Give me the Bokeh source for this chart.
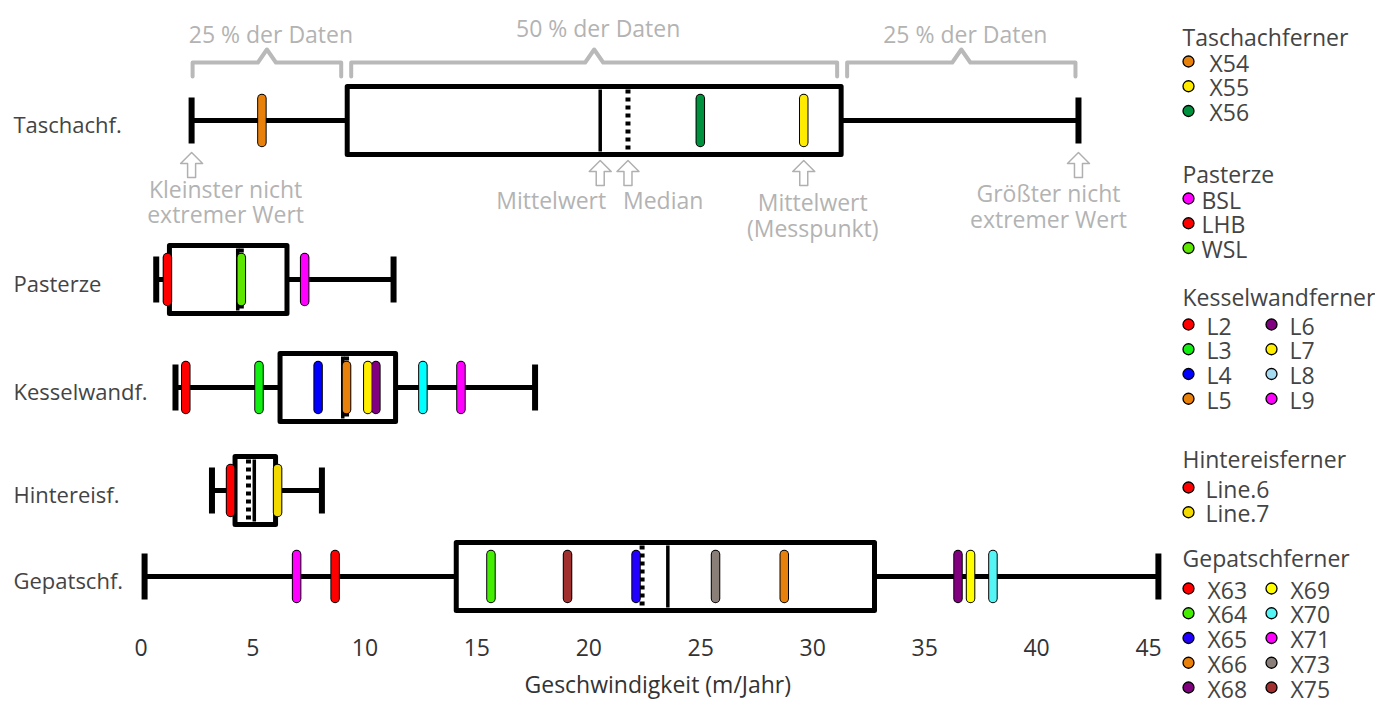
import math
from bokeh.plotting import figure
from bokeh.layouts import row
from bokeh.models import Range1d, FixedTicker, Title
from bokeh.embed import file_html
from bokeh.resources import INLINE
from bokeh.core.properties import value

FONT = "Open Sans"

# ---------------- data ----------------
row_names = ["Taschachf.", "Pasterze", "Kesselwandf.", "Hintereisf.", "Gepatschf."]
whisker_low = [2.26, 0.68, 1.54, 3.17, 0.16]
box_q1 = [9.21, 1.27, 6.21, 4.20, 14.08]
mean_vals = [20.51, 4.32, 9.01, 5.06, 23.53]
median_vals = [21.75, 4.48, 9.18, 4.80, 22.38]
box_q3 = [31.27, 6.52, 11.37, 6.01, 32.76]
whisker_high = [41.87, 11.28, 17.60, 8.08, 45.44]

x_ticks = [0, 5, 10, 15, 20, 25, 30, 35, 40, 45]
x_label = "Geschwindigkeit (m/Jahr)"

group_titles = ["Taschachferner", "Pasterze", "Kesselwandferner", "Hintereisferner", "Gepatschferner"]

taschach_names = ["X54", "X55", "X56"]
taschach_values = [5.40, 29.60, 24.98]
taschach_colors = ["#E8800C", "#FFEB00", "#00913F"]

pasterze_names = ["BSL", "LHB", "WSL"]
pasterze_values = [7.31, 1.18, 4.48]
pasterze_colors = ["#FF00FF", "#FF0000", "#5CE600"]

kessel_names = ["L2", "L3", "L4", "L5", "L6", "L7", "L8", "L9"]
kessel_values = [2.00, 5.27, 7.91, 9.18, 10.49, 10.13, 12.59, 14.29]
kessel_colors = ["#FF0000", "#11EE11", "#0000FF", "#E8800C", "#800080", "#FFEE00", "#00FFFF", "#FF00FF"]
kessel_legend_colors = ["#FF0000", "#11EE11", "#0000FF", "#E8800C", "#800080", "#FFEE00", "#A6DCF2", "#FF00FF"]

hintereis_names = ["Line.6", "Line.7"]
hintereis_values = [4.00, 6.10]
hintereis_colors = ["#FF0000", "#F2DA00"]

gepatsch_names = ["X63", "X64", "X65", "X66", "X68", "X69", "X70", "X71", "X73", "X75"]
gepatsch_values = [8.67, 15.63, 22.11, 28.73, 36.49, 37.05, 38.05, 6.95, 25.66, 19.05]
gepatsch_colors = ["#FF0000", "#44EE00", "#2200FF", "#E8800C", "#800080", "#FFFF00", "#55F5F5", "#FF00FF", "#8A7F78", "#A03030"]

groups = [
    (taschach_names, taschach_values, taschach_colors, taschach_colors),
    (pasterze_names, pasterze_values, pasterze_colors, pasterze_colors),
    (kessel_names, kessel_values, kessel_colors, kessel_legend_colors),
    (hintereis_names, hintereis_values, hintereis_colors, hintereis_colors),
    (gepatsch_names, gepatsch_values, gepatsch_colors, gepatsch_colors),
]

annot_bracket_text = ["25 % der Daten", "50 % der Daten", "25 % der Daten"]

# ---------------- layout ----------------
MAIN_W, LEG_W, H = 1170, 205, 708
FRAME_BOTTOM = 628
X0_PAGE = 140.5   # page px of x = 0
PX = 22.39        # px per m/Jahr
ROW_Y = [120, 279, 387, 490, 576]   # page px
BOX_HALF = 34
CAP_HALF = 23
BAR_HALF = 22

def px2x(px):
    return (px - X0_PAGE) / PX

def dpx(px):
    return px / PX

GRAY = "#b9b9b9"
TXT_GRAY = "#b3b3b3"
ANN_SIZE = "23px"

p = figure(width=MAIN_W, height=H,
           x_range=Range1d(px2x(0), px2x(MAIN_W)),
           y_range=Range1d(FRAME_BOTTOM, 0),
           output_backend="svg", toolbar_location=None,
           min_border_left=0, min_border_right=0, min_border_top=0,
           min_border_bottom=H - FRAME_BOTTOM,
           y_axis_location=None, outline_line_color=None, background_fill_color="white")
p.frame_align = False
p.xgrid.visible = False
p.ygrid.visible = False

ax = p.xaxis[0]
ax.ticker = FixedTicker(ticks=x_ticks)
ax.axis_line_color = None
ax.major_tick_line_color = None
ax.minor_tick_line_color = None
ax.major_tick_out = 0
ax.major_label_standoff = 10
ax.major_label_text_font = FONT
ax.major_label_text_font_size = "23px"
ax.major_label_text_color = "#333333"

p.add_layout(Title(text=x_label, align="left", offset=524, text_font=FONT,
                   text_font_size="23px", text_font_style="normal",
                   text_color="#333333", standoff=14), "below")

# row labels
p.text(x=[px2x(13)] * len(row_names), y=[y + 3 for y in ROW_Y], text=row_names,
       text_font=value(FONT), text_font_size="22px", text_color="#444444",
       text_align="left", text_baseline="middle")

# whiskers
p.segment(x0=whisker_low, x1=whisker_high, y0=ROW_Y, y1=ROW_Y, line_color="black", line_width=5)
p.segment(x0=whisker_low + whisker_high, x1=whisker_low + whisker_high,
          y0=[y - CAP_HALF for y in ROW_Y] * 2, y1=[y + CAP_HALF for y in ROW_Y] * 2,
          line_color="black", line_width=6)
# boxes
p.quad(left=box_q1, right=box_q3, top=[y - BOX_HALF for y in ROW_Y], bottom=[y + BOX_HALF for y in ROW_Y],
       fill_color="white", line_color="black", line_width=5, line_join="round")
# median (dotted) and mean (solid)
p.segment(x0=median_vals, x1=median_vals, y0=[y - 31 for y in ROW_Y], y1=[y + 31 for y in ROW_Y],
          line_color="black", line_width=5, line_dash="4 4")
p.segment(x0=mean_vals, x1=mean_vals, y0=[y - 31 for y in ROW_Y], y1=[y + 31 for y in ROW_Y],
          line_color="black", line_width=3.5)

# measurement points
for gi, (names, vals, cols, lcols) in enumerate(groups):
    yc = ROW_Y[gi]
    y0 = [yc - BAR_HALF] * len(vals)
    y1 = [yc + BAR_HALF] * len(vals)
    p.segment(x0=vals, x1=vals, y0=y0, y1=y1, line_color="black", line_width=9.5, line_cap="round")
    p.segment(x0=vals, x1=vals, y0=y0, y1=y1, line_color=cols, line_width=7.5, line_cap="round")

# ---------------- annotations (Taschach row) ----------------
yc = ROW_Y[0]
bounds = [(whisker_low[0], box_q1[0]), (box_q1[0], box_q3[0]), (box_q3[0], whisker_high[0])]
pads = [(1, 6), (4, 4), (6, 3)]
bx, by, tx, ty = [], [], [], []
text_y = [33, 27, 33]
for (a, b), (pa, pb), t_y in zip(bounds, pads, text_y):
    x0 = a + dpx(pa)
    x1 = b - dpx(pb)
    cx = (x0 + x1) / 2
    bx.append([x0, x0, cx - dpx(9), cx, cx + dpx(9), x1, x1])
    by.append([76, 62, 62, 49, 62, 62, 76])
    tx.append(cx + dpx(4))
    ty.append(t_y)
p.multi_line(bx, by, line_color=GRAY, line_width=4, line_join="round", line_cap="round")
p.text(x=tx, y=ty, text=annot_bracket_text, text_font=value(FONT), text_font_size=ANN_SIZE,
       text_color=TXT_GRAY, text_align="center", text_baseline="middle")

arrow_x = [whisker_low[0], mean_vals[0], median_vals[0], taschach_values[1], whisker_high[0]]
arrow_top = [yc + CAP_HALF + 9, yc + BOX_HALF + 6, yc + BOX_HALF + 6, yc + BOX_HALF + 6, yc + CAP_HALF + 9]
shape = [(0, 0), (11, 11), (4, 11), (4, 25), (-4, 25), (-4, 11), (-11, 11)]
axs, ays = [], []
for ax_, at in zip(arrow_x, arrow_top):
    axs.append([ax_ + dpx(sx) for sx, sy in shape])
    ays.append([at + sy for sx, sy in shape])
p.patches(axs, ays, fill_color="white", line_color="#b0b0b0", line_width=1.5, line_join="round")

ann_text = ["Kleinster nicht", "extremer Wert", "Mittelwert", "Median", "Mittelwert", "(Messpunkt)",
            "Größter nicht", "extremer Wert"]
ann_x = [arrow_x[0] + dpx(34), arrow_x[0] + dpx(34), arrow_x[1] + dpx(6), arrow_x[2] - dpx(5),
         arrow_x[3] + dpx(9), arrow_x[3] + dpx(9), arrow_x[4] - dpx(30), arrow_x[4] - dpx(30)]
ann_y = [188, 213, 199, 199, 201, 227, 192, 218]
ann_align = ["center", "center", "right", "left", "center", "center", "center", "center"]
for t, x, y, al in zip(ann_text, ann_x, ann_y, ann_align):
    p.text(x=[x], y=[y], text=[t], text_font=value(FONT), text_font_size=ANN_SIZE,
           text_color=TXT_GRAY, text_align=al, text_baseline="middle")

# ---------------- legend (separate panel, page-pixel coordinates) ----------------
lg = figure(width=LEG_W, height=H, x_range=Range1d(MAIN_W, MAIN_W + LEG_W), y_range=Range1d(H, 0),
            output_backend="svg", toolbar_location=None,
            min_border_left=0, min_border_right=0, min_border_top=0, min_border_bottom=0,
            x_axis_location=None, y_axis_location=None, outline_line_color=None)
lg.frame_align = False
lg.xgrid.visible = False
lg.ygrid.visible = False

LEG_TITLE_X = 1182
legend_title_y = [36, 173, 296, 458, 557]
legend_first_y = [61, 198, 324, 487, 588]
legend_text_dx = [21, 13, 18, 17, 19]
LEG_ROW = 24.75
LEG_COL_X = [1188, 1271]

lg.text(x=[LEG_TITLE_X] * 5, y=legend_title_y, text=group_titles, text_font=value(FONT),
        text_font_size="23px", text_color="#444444", text_align="left", text_baseline="middle")
for gi, (names, vals, cols, lcols) in enumerate(groups):
    n = len(names)
    ncol = 2 if n > 4 else 1
    per = math.ceil(n / ncol)
    mx, my, txs = [], [], []
    for i in range(n):
        c, r = divmod(i, per)
        mx.append(LEG_COL_X[c])
        txs.append(LEG_COL_X[c] + legend_text_dx[gi])
        my.append(legend_first_y[gi] + r * LEG_ROW)
    lg.scatter(x=mx, y=my, size=11, fill_color=lcols, line_color="black", line_width=1.3)
    lg.text(x=txs, y=[y + 1 for y in my], text=names, text_font=value(FONT), text_font_size="23px",
            text_color="#444444", text_align="left", text_baseline="middle")

layout = row(p, lg)
open("out.html", "w").write(file_html(layout, INLINE))
